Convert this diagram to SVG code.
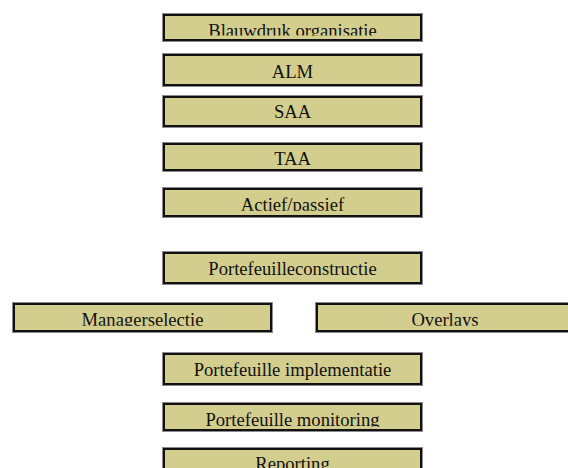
<svg xmlns="http://www.w3.org/2000/svg" width="568" height="468" viewBox="0 0 568 468">
<style>
.halo{fill:none;stroke:#8a8a8a;stroke-width:1}
.box{fill:#D3CE8D;stroke:#111;stroke-width:2}
.lbl{font-family:"Liberation Serif","Times New Roman",serif;font-size:18.6px;fill:#111;text-anchor:middle}
</style>
<defs>
<clipPath id="c1"><rect x="160" y="10" width="270" height="25.5"/></clipPath>
<clipPath id="c5"><rect x="160" y="185" width="270" height="25.8"/></clipPath>
<clipPath id="c7"><rect x="0" y="300" width="568" height="25.8"/></clipPath>
<clipPath id="c10"><rect x="160" y="400" width="270" height="26.8"/></clipPath>
</defs>
<rect width="568" height="468" fill="#fff"/>
<g id="n1"><rect class="halo" x="162.5" y="13.5" width="260" height="28"/><rect class="box" x="164" y="15" width="257" height="25"/><text class="lbl" x="292.5" y="37" clip-path="url(#c1)">Blauwdruk organisatie</text></g>
<g id="n2"><rect class="halo" x="162.5" y="53.5" width="260" height="33"/><rect class="box" x="164" y="55" width="257" height="30"/><text class="lbl" x="292.5" y="77.5">ALM</text></g>
<g id="n3"><rect class="halo" x="162.5" y="95.5" width="260" height="32"/><rect class="box" x="164" y="97" width="257" height="29"/><text class="lbl" x="292.5" y="118">SAA</text></g>
<g id="n4"><rect class="halo" x="162.5" y="142.5" width="260" height="29"/><rect class="box" x="164" y="144" width="257" height="26"/><text class="lbl" x="292.5" y="164.5">TAA</text></g>
<g id="n5"><rect class="halo" x="162.5" y="187.5" width="260" height="30"/><rect class="box" x="164" y="189" width="257" height="27"/><text class="lbl" x="292.5" y="210.5" clip-path="url(#c5)">Actief/passief</text></g>
<g id="n6"><rect class="halo" x="162.5" y="251.5" width="260" height="33"/><rect class="box" x="164" y="253" width="257" height="30"/><text class="lbl" x="292.5" y="275">Portefeuilleconstructie</text></g>
<g id="n7"><rect class="halo" x="12.5" y="302.5" width="260" height="30"/><rect class="box" x="14" y="304" width="257" height="27"/><text class="lbl" x="142.5" y="325.5" clip-path="url(#c7)">Managerselectie</text></g>
<g id="n8"><rect class="halo" x="315.5" y="302.5" width="260" height="30"/><rect class="box" x="317" y="304" width="257" height="27"/><text class="lbl" x="445" y="325.5" clip-path="url(#c7)">Overlays</text></g>
<g id="n9"><rect class="halo" x="162.5" y="352.5" width="260" height="33"/><rect class="box" x="164" y="354" width="257" height="30"/><text class="lbl" x="292.5" y="375.5">Portefeuille implementatie</text></g>
<g id="n10"><rect class="halo" x="162.5" y="402.5" width="260" height="29"/><rect class="box" x="164" y="404" width="257" height="26"/><text class="lbl" x="292.5" y="425.5" clip-path="url(#c10)">Portefeuille monitoring</text></g>
<g id="n11"><rect class="halo" x="162.5" y="447.5" width="260" height="30"/><rect class="box" x="164" y="449" width="257" height="27"/><text class="lbl" x="292.5" y="470">Reporting</text></g>
<g id="connectors"></g>
</svg>
